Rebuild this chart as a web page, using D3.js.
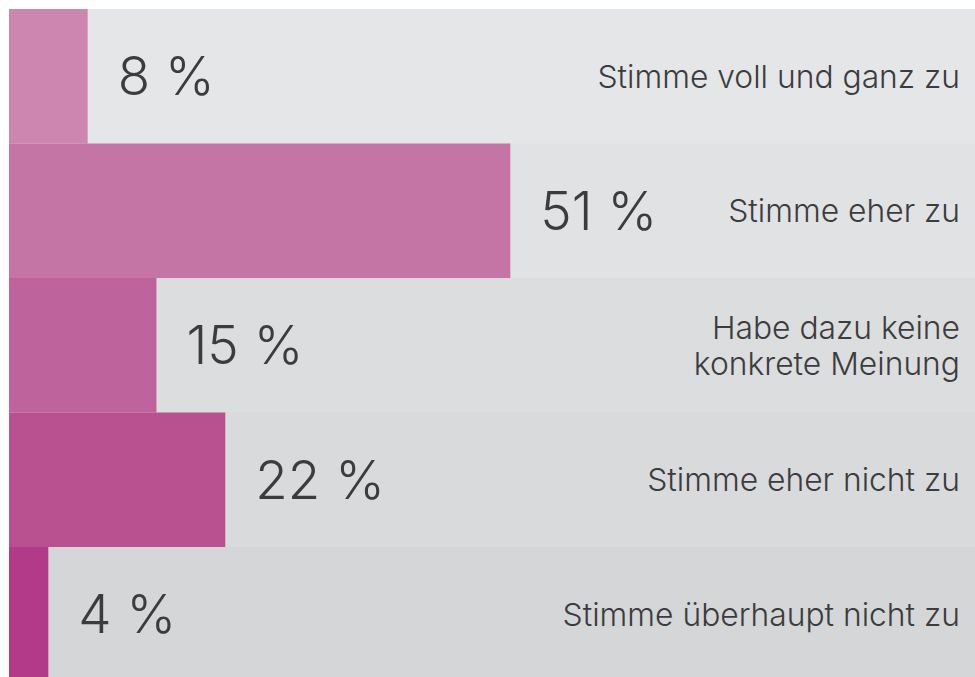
<!DOCTYPE html>
<html><head><meta charset="utf-8">
<script src="https://cdn.jsdelivr.net/npm/d3@7"></script>
<style>
html,body{margin:0;padding:0;background:#fff;overflow:hidden}
svg{display:block}
text{font-family:Inter,"Noto Sans",sans-serif;}
</style></head>
<body>
<svg id="c" width="975" height="677"></svg>
<script>
const categories = [["Stimme voll und ganz zu"],["Stimme eher zu"],["Habe dazu keine","konkrete Meinung"],["Stimme eher nicht zu"],["Stimme überhaupt nicht zu"]];
const values = [8, 51, 15, 22, 4];
const barColors = ["#cd86b0","#c475a5","#bf639c","#b95190","#b33a89"];
const bgColors = ["#e5e6e8","#e1e2e4","#dcdddf","#d9dadc","#d5d6d8"];

const svg = d3.select("#c");
const x = d3.scaleLinear().domain([0,100]).range([9, 992]);
const y = d3.scaleBand().domain(d3.range(values.length)).range([9, 681.5]).padding(0);

const g = svg.selectAll("g.row").data(values).join("g").attr("class","row");
g.append("rect").attr("x", x(0)).attr("width", 975 - x(0))
  .attr("y", (d,i)=>y(i)).attr("height", y.bandwidth()+0.5).attr("fill",(d,i)=>bgColors[i]);
g.append("rect").attr("x", x(0)).attr("width", d=>x(d)-x(0))
  .attr("y", (d,i)=>y(i)).attr("height", y.bandwidth()+0.5).attr("fill",(d,i)=>barColors[i]);
g.append("text").attr("x", d=>x(d)+30).attr("y",(d,i)=>y(i)+y.bandwidth()/2)
  .attr("dy","0.36em").attr("font-size",53).attr("font-weight",300).attr("fill","#3c3c3e")
  .text(d=>d+" %");
g.append("text").attr("text-anchor","end").attr("x",960)
  .attr("font-size",31.8).attr("font-weight",300).attr("fill","#3c3c3e")
  .each(function(d,i){
    const lines = categories[i];
    const lh = 36;
    const c = y(i)+y.bandwidth()/2;
    d3.select(this).selectAll("tspan").data(lines).join("tspan")
      .attr("x",960).attr("y",(l,j)=>c + (j-(lines.length-1)/2)*lh).attr("dy","0.36em").text(l=>l);
  });
</script>
</body></html>
